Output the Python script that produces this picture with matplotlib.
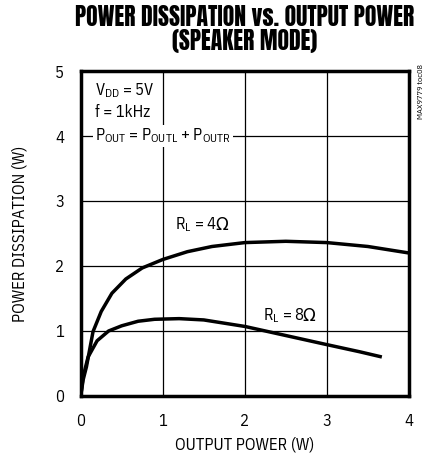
import matplotlib
matplotlib.use("Agg")
import matplotlib.pyplot as plt

x_4ohm = [0, 0.03, 0.07, 0.15, 0.25, 0.38, 0.55, 0.75, 1.0, 1.3, 1.6, 2.0, 2.5, 3.0, 3.5, 4.0]
y_4ohm = [0, 0.25, 0.45, 0.99, 1.3, 1.58, 1.8, 1.97, 2.10, 2.22, 2.30, 2.36, 2.38, 2.36, 2.30, 2.20]
x_8ohm = [0, 0.03, 0.09, 0.2, 0.34, 0.5, 0.7, 0.9, 1.2, 1.5, 2.0, 2.5, 3.0, 3.4, 3.67]
y_8ohm = [0, 0.3, 0.6, 0.85, 1.0, 1.08, 1.15, 1.18, 1.19, 1.17, 1.07, 0.93, 0.79, 0.68, 0.60]
x_ticks = [0, 1, 2, 3, 4]
y_ticks = [0, 1, 2, 3, 4, 5]

FONT = ['IBM Plex Sans Condensed', 'DejaVu Sans']
plt.rcParams['font.family'] = FONT
plt.rcParams['mathtext.fontset'] = 'custom'
plt.rcParams['mathtext.rm'] = 'IBM Plex Sans Condensed'

fig = plt.figure(figsize=(4.3, 4.59), dpi=100)
ax = fig.add_axes([0.1877, 0.1373, 0.7633, 0.708])
ax.set_xlim(0, 4)
ax.set_ylim(0, 5)
ax.set_xticks(x_ticks)
ax.set_yticks(y_ticks)
ax.tick_params(length=0, labelsize=12, pad=12)
ax.grid(True, color='black', linewidth=0.9)
for s in ax.spines.values():
    s.set_linewidth(2.5)

ax.plot(x_4ohm, y_4ohm, color='black', linewidth=2.5, solid_capstyle='butt')
ax.plot(x_8ohm, y_8ohm, color='black', linewidth=2.5, solid_capstyle='butt')

ax.set_xlabel('OUTPUT POWER (W)', fontsize=12, labelpad=6)
ax.set_ylabel('POWER DISSIPATION (W)', fontsize=12, labelpad=20)

fig.text(0.57, 0.99, 'POWER DISSIPATION vs. OUTPUT POWER\n(SPEAKER MODE)',
         ha='center', va='top', fontsize=17, family=['Anton', 'IBM Plex Sans Condensed'],
         linespacing=1.0)

ax.text(0.18, 4.7, r'$\mathregular{V_{DD}}$ = 5V', fontsize=12, va='center')
ax.text(0.18, 4.37, 'f = 1kHz', fontsize=12, va='center')
ax.text(0.18, 4.0, r'$\mathregular{P_{OUT}}$ = $\mathregular{P_{OUTL}}$ + $\mathregular{P_{OUTR}}$',
        fontsize=12, va='center',
        bbox=dict(facecolor='white', edgecolor='none', pad=1.5))

for (lx, ly, txt) in [(1.15, 2.57, r'$\mathregular{R_L}$ = 4'), (2.22, 1.17, r'$\mathregular{R_L}$ = 8')]:
    t = ax.text(lx, ly, txt, fontsize=12, va='baseline', ha='left')
    ax.annotate('Ω', xy=(1, 0), xycoords=t, va='bottom', ha='left',
                fontsize=12, family='DejaVu Sans', xytext=(-1.5, 0), textcoords='offset points')

fig.text(0.98, 0.80, 'MAX9779 toc08', rotation=90, fontsize=6, ha='center', va='center')

fig.savefig('out.png', dpi=100)
